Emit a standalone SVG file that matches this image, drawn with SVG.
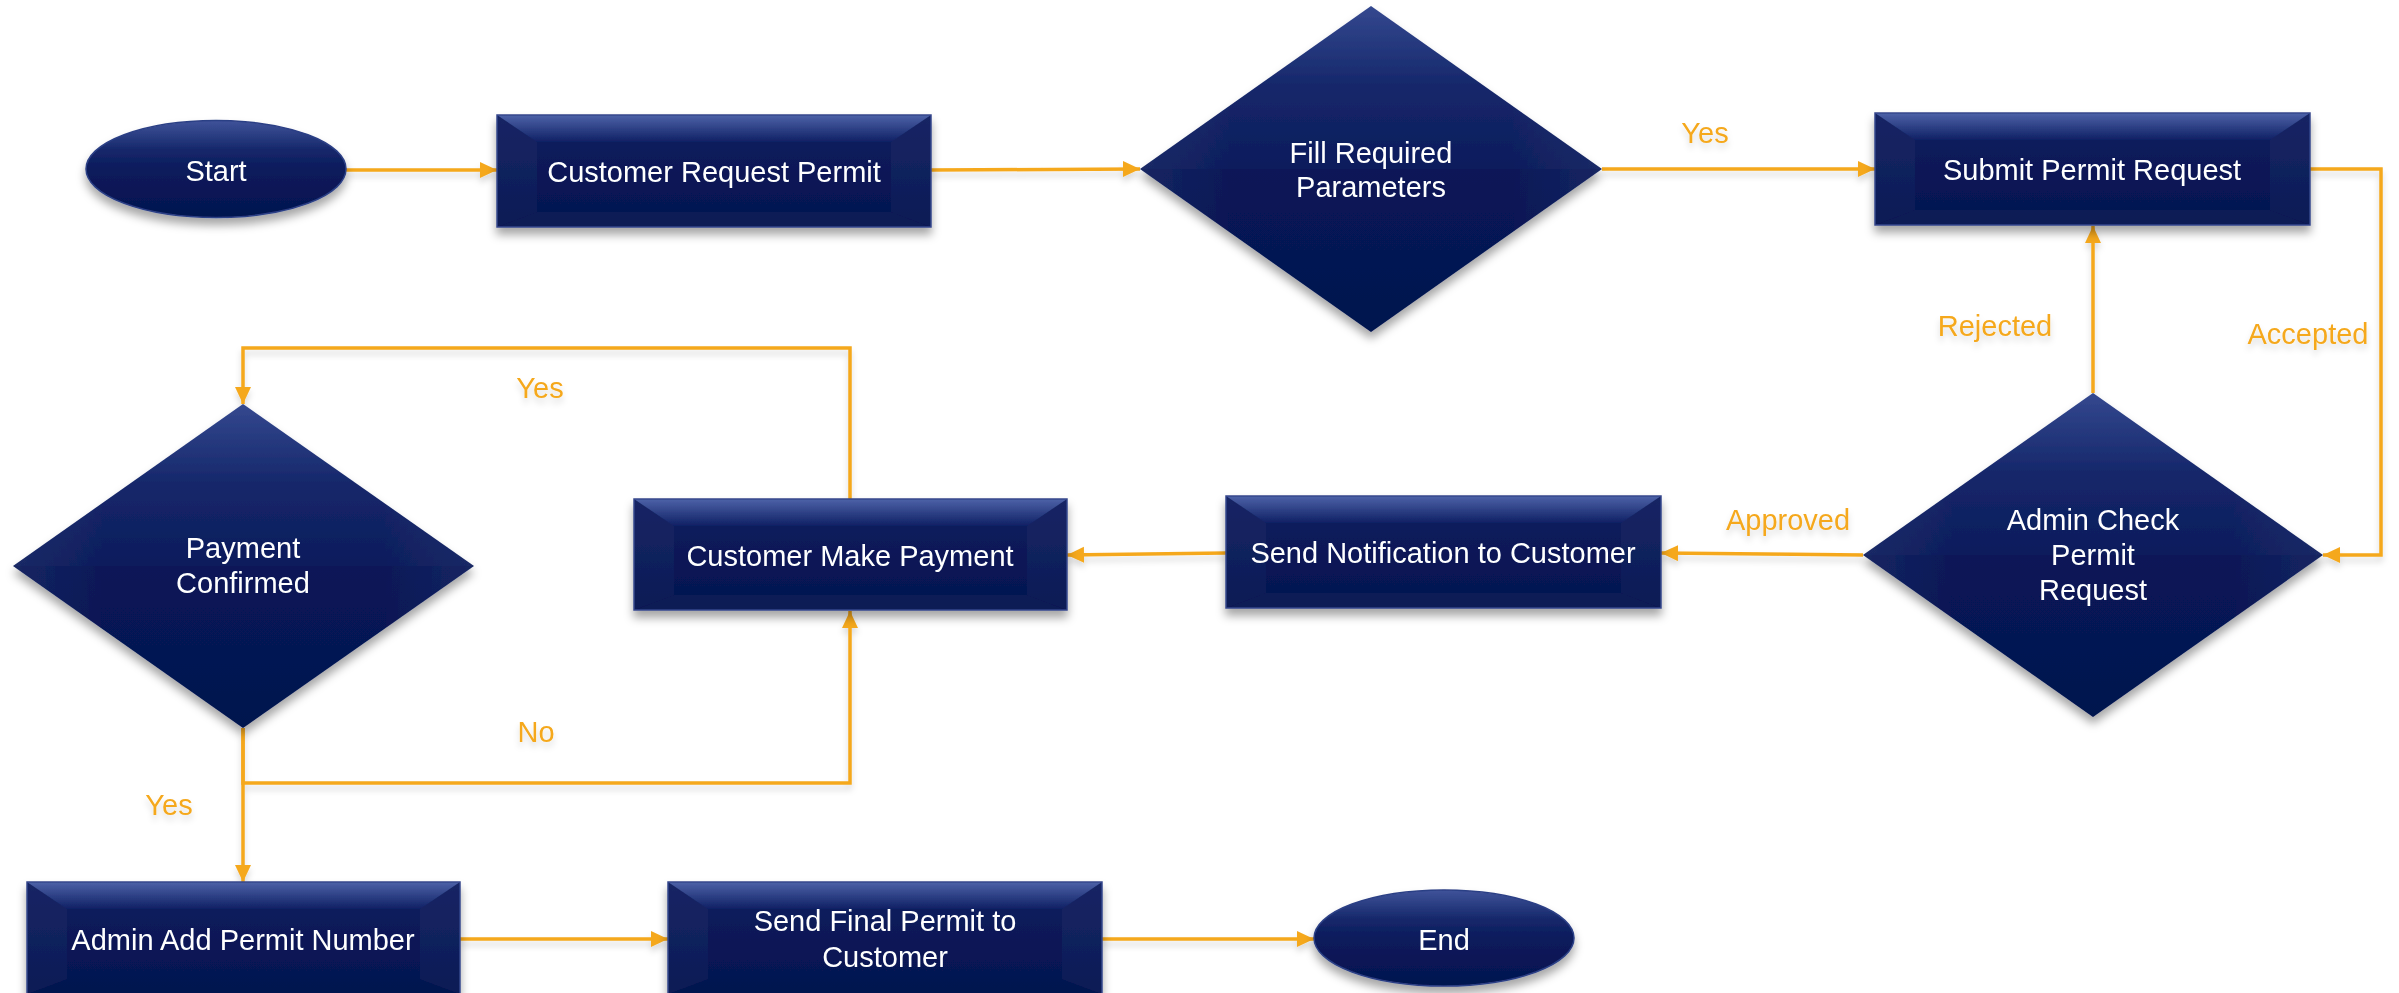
<svg xmlns="http://www.w3.org/2000/svg" width="2399" height="993" viewBox="0 0 2399 993">
<defs>
<style>
.lbl{font-family:"Liberation Sans",Arial,sans-serif;font-size:29px;fill:#ffffff;text-anchor:middle}
.elbl{font-family:"Liberation Sans",Arial,sans-serif;font-size:29px;fill:#F5A81C;text-anchor:middle}
.con{fill:none;stroke:#F5A81C;stroke-width:3.5}
.arr{marker-end:url(#ah)}
.body{fill:url(#rg)}
.top{fill:url(#tg)}
.side{fill:#ffffff;fill-opacity:0.035}
.bot{fill:#ffffff;fill-opacity:0.03}
.edge{fill:none;stroke:#34478c;stroke-width:1.5}
</style>
<linearGradient id="rg" x1="0" y1="0" x2="0" y2="1">
<stop offset="0" stop-color="#0e1e60"/>
<stop offset="1" stop-color="#04134f"/>
</linearGradient>
<linearGradient id="tg" x1="0" y1="0" x2="0" y2="1">
<stop offset="0" stop-color="#4d62a8"/>
<stop offset="1" stop-color="#0f2064"/>
</linearGradient>
<linearGradient id="eg" x1="0" y1="0" x2="0" y2="1">
<stop offset="0" stop-color="#3f539a"/>
<stop offset="0.3" stop-color="#16286b"/>
<stop offset="0.5" stop-color="#0b1b5c"/>
<stop offset="1" stop-color="#04134f"/>
</linearGradient>
<linearGradient id="dg" x1="0" y1="0" x2="0" y2="1">
<stop offset="0" stop-color="#34488f"/>
<stop offset="0.25" stop-color="#15276a"/>
<stop offset="0.5" stop-color="#0c1c5c"/>
<stop offset="0.5" stop-color="#081858"/>
<stop offset="1" stop-color="#04134e"/>
</linearGradient>
<linearGradient id="dside" x1="0" y1="0" x2="1" y2="0">
<stop offset="0" stop-color="#ffffff" stop-opacity="0.06"/>
<stop offset="0.2" stop-color="#ffffff" stop-opacity="0"/>
<stop offset="0.8" stop-color="#ffffff" stop-opacity="0"/>
<stop offset="1" stop-color="#ffffff" stop-opacity="0.06"/>
</linearGradient>
<filter id="sh" x="-10%" y="-10%" width="120%" height="130%">
<feDropShadow dx="0" dy="7" stdDeviation="5" flood-color="#000000" flood-opacity="0.35"/>
</filter>
<filter id="csh" x="-5%" y="-5%" width="110%" height="120%">
<feDropShadow dx="0" dy="5" stdDeviation="3" flood-color="#000000" flood-opacity="0.15"/>
</filter>
<marker id="ah" markerUnits="userSpaceOnUse" markerWidth="18" markerHeight="18" refX="17" refY="8" orient="auto">
<path d="M0,0 L17,8 L0,16 z" fill="#F5A81C"/>
</marker>
</defs>
<rect width="2399" height="993" fill="#ffffff"/>

<g id="connectors" filter="url(#csh)">
<path class="con arr" d="M346,170 L497,170"/>
<path class="con arr" d="M931,170 L1140,169"/>
<path class="con arr" d="M1602,169 L1875,169"/>
<path class="con arr" d="M2310,169 L2381,169 L2381,555 L2323,555"/>
<path class="con arr" d="M2093,393 L2093,226"/>
<path class="con arr" d="M1863,555 L1661,553"/>
<path class="con arr" d="M1226,553 L1067,555"/>
<path class="con arr" d="M850,499 L850,348 L243,348 L243,404"/>
<path class="con arr" d="M243,728 L243,783 L850,783 L850,611"/>
<path class="con arr" d="M243,728 L243,882"/>
<path class="con arr" d="M460,939 L668,939"/>
<path class="con arr" d="M1102,939 L1314,939"/>
<text class="elbl" x="1705" y="143">Yes</text>
<text class="elbl" x="1995" y="336">Rejected</text>
<text class="elbl" x="2308" y="344">Accepted</text>
<text class="elbl" x="1788" y="530">Approved</text>
<text class="elbl" x="540" y="398">Yes</text>
<text class="elbl" x="536" y="742">No</text>
<text class="elbl" x="169" y="815">Yes</text>
</g>

<g id="start" filter="url(#sh)">
<ellipse cx="216" cy="169" rx="130" ry="48.5" fill="url(#eg)" stroke="#2c3f85" stroke-width="1.5"/>
<text class="lbl" x="216" y="181">Start</text>
</g>

<g id="customer-request-permit" filter="url(#sh)">
<rect class="body" x="497" y="115" width="434" height="112"/>
<polygon class="top" points="497,115 931,115 891,142 537,142"/>
<polygon class="side" points="497,115 537,142 537,212 497,227"/>
<polygon class="side" points="931,115 891,142 891,212 931,227"/>
<polygon class="bot" points="497,227 537,212 891,212 931,227"/>
<rect class="edge" x="497" y="115" width="434" height="112"/>
<text class="lbl" x="714" y="182">Customer Request Permit</text>
</g>

<g id="fill-required-parameters" filter="url(#sh)">
<polygon points="1371,6 1602,169 1371,332 1140,169" fill="url(#dg)"/>
<polygon points="1371,6 1602,169 1371,332 1140,169" fill="url(#dside)"/>
<text class="lbl" x="1371" y="163">Fill Required</text>
<text class="lbl" x="1371" y="197">Parameters</text>
</g>

<g id="submit-permit-request" filter="url(#sh)">
<rect class="body" x="1875" y="113" width="435" height="112"/>
<polygon class="top" points="1875,113 2310,113 2270,140 1915,140"/>
<polygon class="side" points="1875,113 1915,140 1915,210 1875,225"/>
<polygon class="side" points="2310,113 2270,140 2270,210 2310,225"/>
<polygon class="bot" points="1875,225 1915,210 2270,210 2310,225"/>
<rect class="edge" x="1875" y="113" width="435" height="112"/>
<text class="lbl" x="2092" y="180">Submit Permit Request</text>
</g>

<g id="admin-check-permit-request" filter="url(#sh)">
<polygon points="2093,393 2323,555 2093,717 1863,555" fill="url(#dg)"/>
<polygon points="2093,393 2323,555 2093,717 1863,555" fill="url(#dside)"/>
<text class="lbl" x="2093" y="530">Admin Check</text>
<text class="lbl" x="2093" y="565">Permit</text>
<text class="lbl" x="2093" y="600">Request</text>
</g>

<g id="send-notification" filter="url(#sh)">
<rect class="body" x="1226" y="496" width="435" height="112"/>
<polygon class="top" points="1226,496 1661,496 1621,523 1266,523"/>
<polygon class="side" points="1226,496 1266,523 1266,593 1226,608"/>
<polygon class="side" points="1661,496 1621,523 1621,593 1661,608"/>
<polygon class="bot" points="1226,608 1266,593 1621,593 1661,608"/>
<rect class="edge" x="1226" y="496" width="435" height="112"/>
<text class="lbl" x="1443" y="563">Send Notification to Customer</text>
</g>

<g id="customer-make-payment" filter="url(#sh)">
<rect class="body" x="634" y="499" width="433" height="111"/>
<polygon class="top" points="634,499 1067,499 1027,526 674,526"/>
<polygon class="side" points="634,499 674,526 674,595 634,610"/>
<polygon class="side" points="1067,499 1027,526 1027,595 1067,610"/>
<polygon class="bot" points="634,610 674,595 1027,595 1067,610"/>
<rect class="edge" x="634" y="499" width="433" height="111"/>
<text class="lbl" x="850" y="566">Customer Make Payment</text>
</g>

<g id="payment-confirmed" filter="url(#sh)">
<polygon points="243,404 474,566 243,728 13,566" fill="url(#dg)"/>
<polygon points="243,404 474,566 243,728 13,566" fill="url(#dside)"/>
<text class="lbl" x="243" y="558">Payment</text>
<text class="lbl" x="243" y="593">Confirmed</text>
</g>

<g id="admin-add-permit-number" filter="url(#sh)">
<rect class="body" x="27" y="882" width="433" height="112"/>
<polygon class="top" points="27,882 460,882 420,909 67,909"/>
<polygon class="side" points="27,882 67,909 67,979 27,994"/>
<polygon class="side" points="460,882 420,909 420,979 460,994"/>
<rect class="edge" x="27" y="882" width="433" height="112"/>
<text class="lbl" x="243" y="950">Admin Add Permit Number</text>
</g>

<g id="send-final-permit" filter="url(#sh)">
<rect class="body" x="668" y="882" width="434" height="112"/>
<polygon class="top" points="668,882 1102,882 1062,909 708,909"/>
<polygon class="side" points="668,882 708,909 708,979 668,994"/>
<polygon class="side" points="1102,882 1062,909 1062,979 1102,994"/>
<rect class="edge" x="668" y="882" width="434" height="112"/>
<text class="lbl" x="885" y="931">Send Final Permit to</text>
<text class="lbl" x="885" y="967">Customer</text>
</g>

<g id="end" filter="url(#sh)">
<ellipse cx="1444" cy="938" rx="130" ry="48" fill="url(#eg)" stroke="#2c3f85" stroke-width="1.5"/>
<text class="lbl" x="1444" y="950">End</text>
</g>
</svg>
